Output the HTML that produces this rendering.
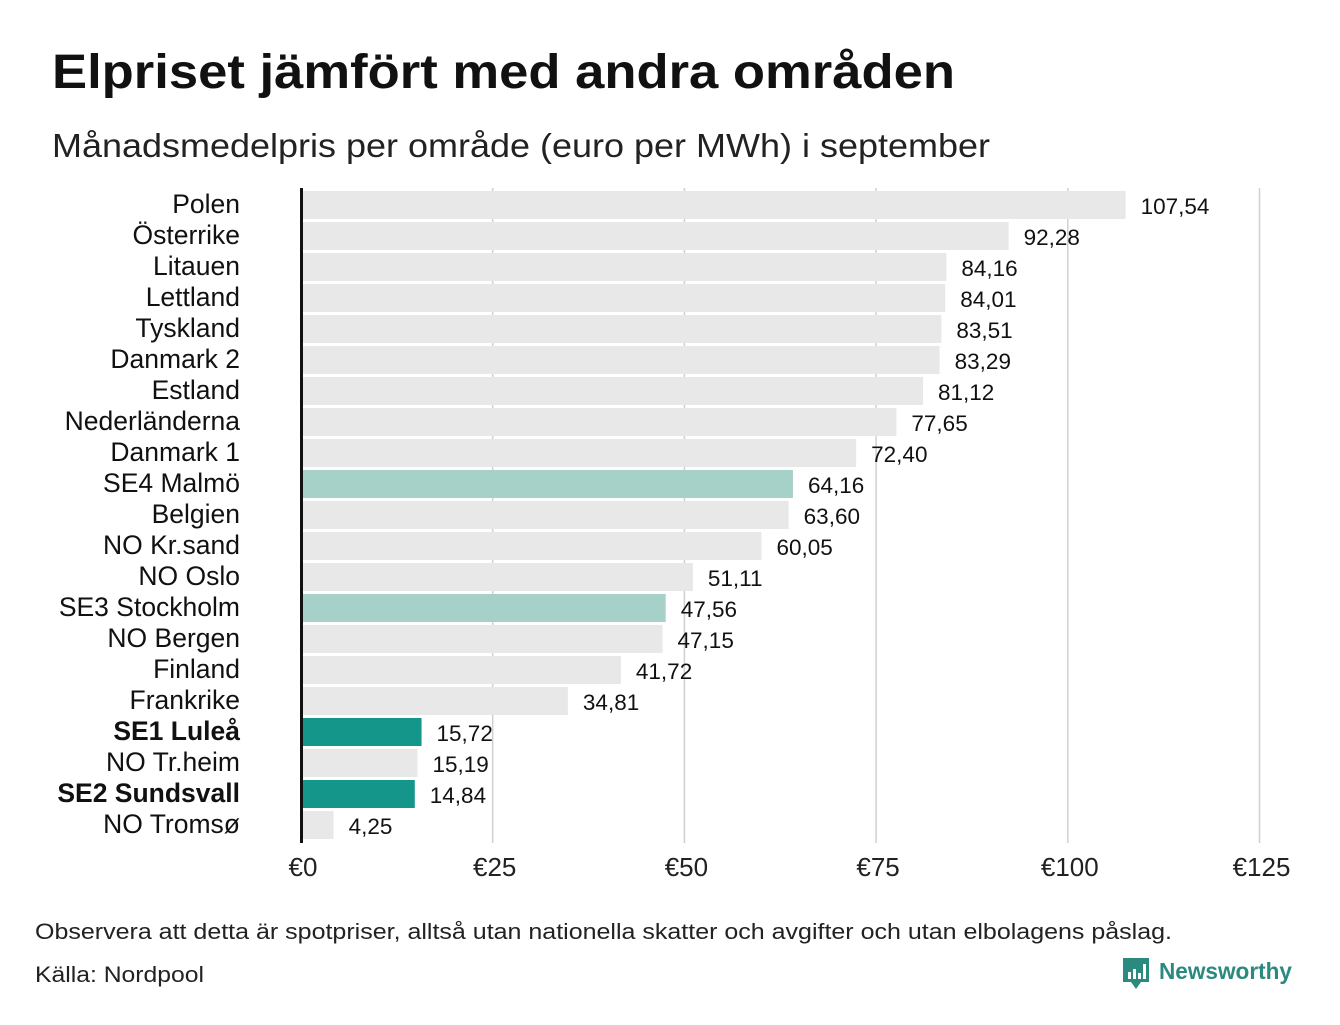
<!DOCTYPE html>
<html><head><meta charset="utf-8"><style>
body{margin:0;background:#fff;font-family:"Liberation Sans",sans-serif;}
svg text{font-family:"Liberation Sans",sans-serif;}
</style></head><body>
<svg id="c" width="1340" height="1020" xmlns="http://www.w3.org/2000/svg">
<text x="52" y="88" font-size="48" font-weight="bold" fill="#111" textLength="903" lengthAdjust="spacingAndGlyphs">Elpriset jämfört med andra områden</text>
<text x="52" y="157" font-size="33" fill="#222" textLength="938" lengthAdjust="spacingAndGlyphs">Månadsmedelpris per område (euro per MWh) i september</text>
<g id="grid"></g>
<g id="bars"></g>
<line x1="301.5" y1="188" x2="301.5" y2="843" stroke="#111" stroke-width="3"/>
<g id="xt"></g>
<text x="35" y="939" font-size="22.5" fill="#222" textLength="1137" lengthAdjust="spacingAndGlyphs">Observera att detta är spotpriser, alltså utan nationella skatter och avgifter och utan elbolagens påslag.</text>
<text x="35" y="982" font-size="22.5" fill="#222" textLength="169" lengthAdjust="spacingAndGlyphs">Källa: Nordpool</text>
<g>
<path d="M1123 958 h26 v24 h-8 l-5 7 l-5 -7 h-8 z" fill="#2a8a80"/>
<rect x="1128" y="972" width="3" height="7" fill="#fff"/><rect x="1133" y="969" width="3" height="10" fill="#fff"/><rect x="1138" y="973" width="3" height="6" fill="#fff"/><rect x="1143" y="964" width="3" height="15" fill="#fff"/>
<text x="1159" y="979" font-size="23" font-weight="bold" fill="#2a8a80" textLength="133" lengthAdjust="spacingAndGlyphs">Newsworthy</text>
</g>
</svg>
<script>
const categories=["Polen","Österrike","Litauen","Lettland","Tyskland","Danmark  2","Estland","Nederländerna","Danmark  1","SE4  Malmö","Belgien","NO Kr.sand","NO Oslo","SE3  Stockholm","NO Bergen","Finland","Frankrike","SE1 Luleå","NO Tr.heim","SE2 Sundsvall","NO Tromsø"];
const values=[107.54,92.28,84.16,84.01,83.51,83.29,81.12,77.65,72.40,64.16,63.60,60.05,51.11,47.56,47.15,41.72,34.81,15.72,15.19,14.84,4.25];
const highlight=[0,0,0,0,0,0,0,0,0,1,0,0,0,1,0,0,0,2,0,2,0];
const ticks=[0,25,50,75,100,125];
const tickLabels=["€0","€25","€50","€75","€100","€125"];
const NS="http://www.w3.org/2000/svg";
const x=v=>301+v*7.668;
const yc=i=>205+i*31;
function mk(t,a,p){const e=document.createElementNS(NS,t);for(const k in a)e.setAttribute(k,a[k]);p.appendChild(e);return e;}
const grid=document.getElementById('grid'),xt=document.getElementById('xt'),bars=document.getElementById('bars');
ticks.forEach((t,i)=>{
 if(t>0){const l=mk('line',{x1:x(t),x2:x(t),y1:188,y2:843,stroke:'#d0d0d0','stroke-width':1.5},grid);
 
 }
 const tx=mk('text',{x:x(t)+2,y:876,'font-size':26,'text-anchor':'middle',fill:'#222'},xt);
 tx.textContent=tickLabels[i];
 
 
});
const cols=['#e8e8e8','#a6d1c9','#14968a'];
categories.forEach((c,i)=>{
 const r=mk('rect',{x:302,y:yc(i)-14,width:x(values[i])-302,height:28,fill:cols[highlight[i]]},bars);
 
 
 const lb=mk('text',{x:240,y:yc(i)+8,'font-size':26.5,'text-anchor':'end',fill:'#111'},bars);
 if(highlight[i]==2)lb.setAttribute('font-weight','bold');
 lb.textContent=c;
 
 
 const v=mk('text',{x:x(values[i])+15,y:yc(i)+9,'font-size':22.5,fill:'#111'},bars);
 v.textContent=values[i].toFixed(2).replace('.',',');
 
 
});
</script>
</body></html>
